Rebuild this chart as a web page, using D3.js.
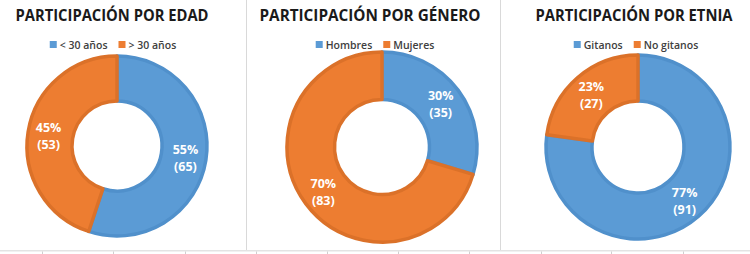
<!DOCTYPE html>
<html>
<head>
<meta charset="utf-8">
<script src="https://cdnjs.cloudflare.com/ajax/libs/d3/7.8.5/d3.min.js"></script>
<style>
  body { margin: 0; background: #fff; }
  svg { display: block; font-family: "Open Sans", "DejaVu Sans", sans-serif; }
</style>
</head>
<body>
<div id="chart"></div>
<script>
// data
var titles = ["PARTICIPACIÓN POR EDAD", "PARTICIPACIÓN POR GÉNERO", "PARTICIPACIÓN POR ETNIA"];
var edadCats = ["< 30 años", "> 30 años"];
var edadVals = [65, 53];
var generoCats = ["Hombres", "Mujeres"];
var generoVals = [35, 83];
var etniaCats = ["Gitanos", "No gitanos"];
var etniaVals = [91, 27];

var fills = ["#5b9bd5", "#ed7d31"];
var borders = ["#5090cb", "#db7129"];

var width = 750, height = 254;

// panel layout
var panels = [
  {cats: edadCats, vals: edadVals, cx: 117, cy: 146, r: 90, tx: 112, tw: 193, lx: 113},
  {cats: generoCats, vals: generoVals, cx: 382, cy: 147, r: 95, tx: 370, tw: 221, lx: 375},
  {cats: etniaCats, vals: etniaVals, cx: 638, cy: 147, r: 92, tx: 634, tw: 197, lx: 636}
];
var separators = [246, 500];
var sheetTicks = [42, 113, 185, 256, 327, 398, 469, 541, 611, 683];

var svg = d3.select("#chart").append("svg")
  .attr("width", width)
  .attr("height", height);

// spreadsheet background bits
svg.selectAll("line.sep")
  .data(separators)
  .enter()
  .append("line")
  .attr("class", "sep")
  .attr("x1", function(d) { return d + 0.5; })
  .attr("x2", function(d) { return d + 0.5; })
  .attr("y1", 0)
  .attr("y2", 250)
  .style("stroke", "#d9d9d9");

svg.append("rect")
  .attr("x", 0).attr("y", 250)
  .attr("width", width).attr("height", 1.5)
  .attr("fill", "#e3e3e3");

svg.selectAll("line.tick")
  .data(sheetTicks)
  .enter()
  .append("line")
  .attr("class", "tick")
  .attr("x1", function(d) { return d + 0.5; })
  .attr("x2", function(d) { return d + 0.5; })
  .attr("y1", 251.5)
  .attr("y2", 254)
  .style("stroke", "#cfcfcf");

var pie = d3.pie().sort(null).value(function(d) { return d.value; });

panels.forEach(function(p, i) {
  var data = p.cats.map(function(c, j) { return {cat: c, value: p.vals[j], idx: j}; });
  var total = d3.sum(p.vals);
  var colour = d3.scaleOrdinal().domain(p.cats).range(fills);
  var border = d3.scaleOrdinal().domain(p.cats).range(borders);

  var g = svg.append("g");

  // title
  g.append("text")
    .attr("x", p.tx)
    .attr("y", 21)
    .attr("text-anchor", "middle")
    .attr("textLength", p.tw)
    .attr("lengthAdjust", "spacingAndGlyphs")
    .style("font-size", "16px")
    .style("font-weight", "bold")
    .style("fill", "#1a1a1a")
    .text(titles[i]);

  // legend
  var leg = g.append("g");
  var xpos = 0;
  data.forEach(function(d) {
    leg.append("rect")
      .attr("x", xpos).attr("y", -3)
      .attr("width", 7).attr("height", 7)
      .attr("fill", colour(d.cat));
    var t = leg.append("text")
      .attr("x", xpos + 10)
      .attr("y", 4.5)
      .style("font-size", "10.5px")
      .style("font-weight", "600")
      .style("fill", "#404040")
      .text(d.cat);
    xpos += 10 + t.node().getComputedTextLength() + 11;
  });
  var legW = xpos - 11;
  leg.attr("transform", "translate(" + (p.lx - legW / 2) + ",44)");

  // donut
  var arc = d3.arc().innerRadius(p.r * 0.5).outerRadius(p.r);
  var labelArc = d3.arc().innerRadius(p.r * 0.77).outerRadius(p.r * 0.77);

  var donut = g.append("g")
    .attr("transform", "translate(" + p.cx + "," + p.cy + ")");

  donut.selectAll("path")
    .data(pie(data))
    .enter()
    .append("path")
    .attr("d", arc)
    .attr("fill", function(d) { return colour(d.data.cat); })
    .style("stroke", function(d) { return border(d.data.cat); })
    .style("stroke-width", 3.5)
    .style("stroke-linejoin", "round");

  var labels = donut.selectAll("text")
    .data(pie(data))
    .enter()
    .append("text")
    .attr("text-anchor", "middle")
    .attr("transform", function(d) { return "translate(" + labelArc.centroid(d) + ")"; })
    .style("font-size", "12.5px")
    .style("font-weight", "bold")
    .style("fill", "#ffffff");

  labels.append("tspan")
    .attr("x", 0).attr("y", -3)
    .text(function(d) { return Math.round(d.data.value / total * 100) + "%"; });
  labels.append("tspan")
    .attr("x", 0).attr("y", 14)
    .text(function(d) { return "(" + d.data.value + ")"; });
});
</script>
</body>
</html>
